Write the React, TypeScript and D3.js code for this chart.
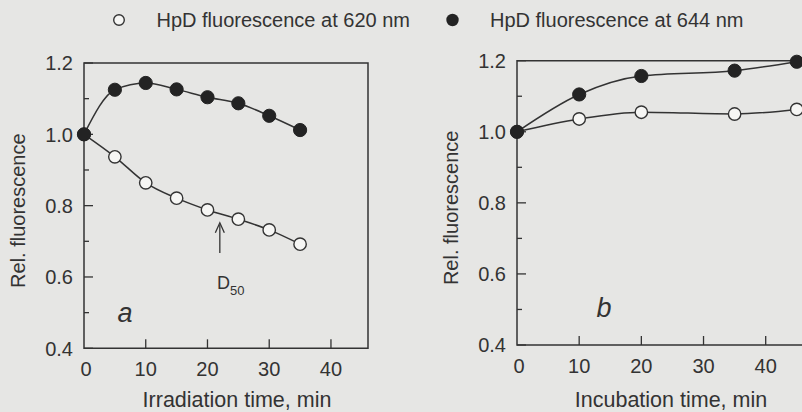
import React from "react";
import * as d3 from "d3";

const timeA = [0, 5, 10, 15, 20, 25, 30, 35];
const a644 = [1.0, 1.125, 1.144, 1.126, 1.104, 1.087, 1.052, 1.012];
const a620 = [1.0, 0.937, 0.864, 0.821, 0.788, 0.762, 0.732, 0.692];
const timeB = [0, 10, 20, 35, 45];
const b644 = [1.0, 1.105, 1.157, 1.172, 1.197];
const b620 = [1.0, 1.036, 1.055, 1.05, 1.063];
const xTicks = [0, 10, 20, 30, 40];
const yMajor = [0.4, 0.6, 0.8, 1.0, 1.2];
const yMinor = [0.5, 0.7, 0.9, 1.1];
const legendLabels = ["HpD fluorescence at 620 nm", "HpD fluorescence at 644 nm"];
const d50Time = 22;
const d50Range = [0.667, 0.752];

const FONT = "'Liberation Sans', Arial, sans-serif";
const INK = "#333333";
const BG = "#e6e6e4";

type PanelProps = {
  x: d3.ScaleLinear<number, number>;
  y: d3.ScaleLinear<number, number>;
  t: number[];
  s620: number[];
  s644: number[];
  xTitle: string;
  letter: string;
  letterPos: [number, number];
  titleX: number;
  children?: React.ReactNode;
};

function Panel({ x, y, t, s620, s644, xTitle, letter, letterPos, titleX, children }: PanelProps) {
  const [x0, x1] = x.range();
  const [yb, yt] = y.range();
  const line = d3
    .line<number>()
    .x((_, i) => x(t[i]))
    .y((d) => y(d))
    .curve(d3.curveMonotoneX);
  const ymid = (yb + yt) / 2;
  return (
    <g>
      <path
        d={`M${x0},${yt}H${x1}V${yb}H${x0}Z`}
        fill="none"
        stroke={INK}
        strokeWidth={1.5}
      />
      {yMajor.map((v) => (
        <g key={"ym" + v}>
          <line x1={x0} x2={x0 + 9} y1={y(v)} y2={y(v)} stroke={INK} strokeWidth={1.3} />
          <text
            x={x0 - 11}
            y={y(v)}
            dy="0.36em"
            textAnchor="end"
            fontSize={20}
            fontFamily={FONT}
            fill={INK}
          >
            {v.toFixed(1)}
          </text>
        </g>
      ))}
      {yMinor.map((v) => (
        <line key={"yn" + v} x1={x0} x2={x0 + 5} y1={y(v)} y2={y(v)} stroke={INK} strokeWidth={1.3} />
      ))}
      {xTicks.map((v) => (
        <g key={"xt" + v}>
          {v > 0 && (
            <line x1={x(v)} x2={x(v)} y1={yb} y2={yb - 9} stroke={INK} strokeWidth={1.3} />
          )}
          <text
            x={x(v) + (v === 0 ? 2 : 0)}
            y={yb + 28}
            textAnchor="middle"
            fontSize={20}
            fontFamily={FONT}
            fill={INK}
          >
            {v}
          </text>
        </g>
      ))}
      <text
        x={titleX}
        y={407}
        textAnchor="middle"
        fontSize={21.5}
        fontFamily={FONT}
        fill={INK}
      >
        {xTitle}
      </text>
      <text
        transform={`translate(${x0 - 59},${ymid + 5}) rotate(-90)`}
        textAnchor="middle"
        fontSize={20}
        fontFamily={FONT}
        fill={INK}
      >
        Rel. fluorescence
      </text>
      <text
        x={letterPos[0]}
        y={letterPos[1]}
        textAnchor="middle"
        fontSize={27}
        fontStyle="italic"
        fontFamily={FONT}
        fill={INK}
      >
        {letter}
      </text>
      <path d={line(s620) || ""} fill="none" stroke={INK} strokeWidth={1.5} />
      <path d={line(s644) || ""} fill="none" stroke={INK} strokeWidth={1.5} />
      {s620.map((v, i) => (
        <circle key={"o" + i} cx={x(t[i])} cy={y(v)} r={6.2} fill="#f6f6f4" stroke={INK} strokeWidth={1.4} />
      ))}
      {s644.map((v, i) => (
        <circle key={"f" + i} cx={x(t[i])} cy={y(v)} r={6.6} fill="#232323" stroke="#232323" strokeWidth={1} />
      ))}
      {children}
    </g>
  );
}

export default function App() {
  const xA = d3.scaleLinear().domain([0, 46]).range([84, 368]);
  const yA = d3.scaleLinear().domain([0.4, 1.2]).range([348.3, 63]);
  const xB = d3.scaleLinear().domain([0, 46]).range([517, 803]);
  const yB = d3.scaleLinear().domain([0.4, 1.2]).range([345, 60.7]);

  const ax = xA(d50Time);
  const ayTop = yA(d50Range[1]);
  const ayBot = yA(d50Range[0]);

  return (
    <svg
      width={802}
      height={412}
      viewBox="0 0 802 412"
      style={{ position: "absolute", left: 0, top: 0, display: "block" }}
    >
      <rect x={0} y={0} width={802} height={412} fill={BG} />
      {/* legend */}
      <circle cx={119} cy={20} r={5.3} fill="#f6f6f4" stroke={INK} strokeWidth={1.4} />
      <text x={156.5} y={27} fontSize={20} fontFamily={FONT} fill={INK}>
        {legendLabels[0]}
      </text>
      <circle cx={452.5} cy={20} r={6.2} fill="#232323" />
      <text x={490} y={27} fontSize={20} fontFamily={FONT} fill={INK}>
        {legendLabels[1]}
      </text>

      <Panel
        x={xA}
        y={yA}
        t={timeA}
        s620={a620}
        s644={a644}
        xTitle="Irradiation time, min"
        letter="a"
        letterPos={[125, 322]}
        titleX={237}
      >
        <line x1={ax} x2={ax} y1={ayBot} y2={ayTop + 2} stroke={INK} strokeWidth={1.3} />
        <path
          d={`M${ax - 4.5},${ayTop + 10}L${ax},${ayTop}L${ax + 4.5},${ayTop + 10}`}
          fill="none"
          stroke={INK}
          strokeWidth={1.3}
        />
        <text x={217} y={289} fontSize={18} fontFamily={FONT} fill={INK}>
          D
          <tspan fontSize={13} dy={6}>
            50
          </tspan>
        </text>
      </Panel>
      <Panel
        x={xB}
        y={yB}
        t={timeB}
        s620={b620}
        s644={b644}
        xTitle="Incubation time, min"
        letter="b"
        letterPos={[604, 317]}
        titleX={671}
      />
    </svg>
  );
}
